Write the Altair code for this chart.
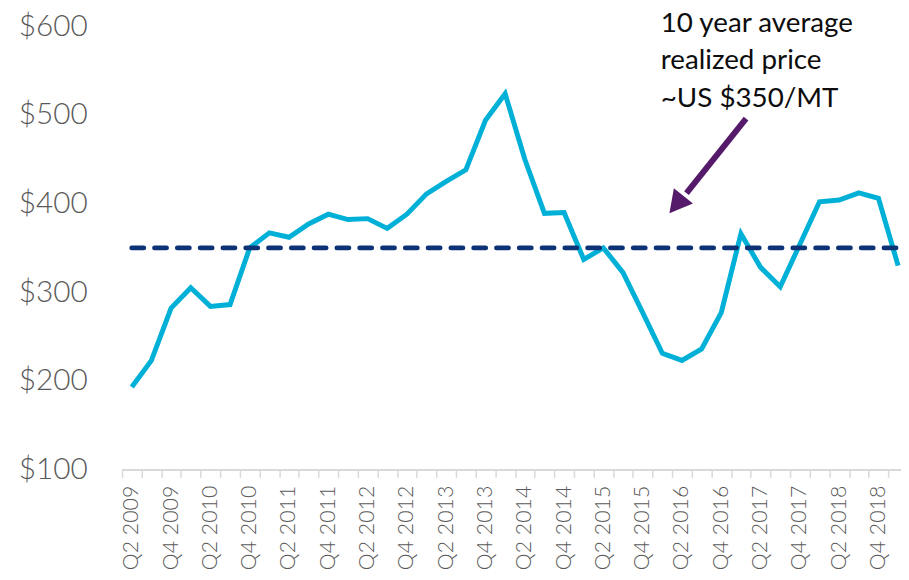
import altair as alt
import pandas as pd

quarters = [
    "Q2 2009", "Q3 2009", "Q4 2009", "Q1 2010", "Q2 2010", "Q3 2010", "Q4 2010",
    "Q1 2011", "Q2 2011", "Q3 2011", "Q4 2011", "Q1 2012", "Q2 2012", "Q3 2012",
    "Q4 2012", "Q1 2013", "Q2 2013", "Q3 2013", "Q4 2013", "Q1 2014", "Q2 2014",
    "Q3 2014", "Q4 2014", "Q1 2015", "Q2 2015", "Q3 2015", "Q4 2015", "Q1 2016",
    "Q2 2016", "Q3 2016", "Q4 2016", "Q1 2017", "Q2 2017", "Q3 2017", "Q4 2017",
    "Q1 2018", "Q2 2018", "Q3 2018", "Q4 2018", "Q1 2019",
]
prices = [
    193, 223, 282, 305, 284, 286, 350,
    367, 362, 377, 388, 382, 383, 372,
    388, 411, 425, 438, 494, 524, 450,
    389, 390, 337, 350, 322, 277, 231,
    223, 236, 277, 366, 328, 306, 354,
    402, 404, 412, 406, 330,
]
avg_price = 350
y_ticks = [100, 200, 300, 400, 500, 600]

note_lines = ["10 year average", "realized price", "~US $350/MT"]
note_pos = [27.42, 593.3]
arrow_tail = [31.76, 495.9]
arrow_base = [28.73, 411.9]
arrow_tip = [27.86, 389.1]

df = pd.DataFrame({"quarter": quarters, "price": prices, "avg": [avg_price] * len(quarters)})
note_df = pd.DataFrame({"ax": [note_pos[0]], "ay": [note_pos[1]], "txt": [note_lines]})
shaft_df = pd.DataFrame({"ax": [arrow_tail[0]], "ax2": [arrow_base[0]],
                         "ay": [arrow_tail[1]], "ay2": [arrow_base[1]]})
head_df = pd.DataFrame({"ax": [arrow_tip[0]], "ay": [arrow_tip[1]]})

ydom = alt.Scale(domain=[100, 600], nice=False, zero=False)
y_axis = alt.Axis(
    title=None, values=y_ticks, format="$.0f", labelFontSize=30,
    labelColor="#595959", labelPadding=35, ticks=False, domain=False,
    grid=False, labelFont="Lato", labelFontWeight=300,
)

x_band = alt.X(
    "quarter:N", sort=quarters, bandPosition=0.5,
    scale=alt.Scale(type="band", paddingInner=0, paddingOuter=0),
    axis=alt.Axis(
        title=None, labelAngle=-90, labelFontSize=21.5, labelColor="#595959",
        labelPadding=8, tickSize=8, tickColor="#D9D9D9", tickWidth=1.5,
        domain=True, domainColor="#D9D9D9", domainWidth=2, tickBand="extent",
        labelExpr="(indexof(datum.label, 'Q2') == 0 || indexof(datum.label, 'Q4') == 0) ? datum.label : ''",
        labelOverlap=False, labelBound=False, grid=False, labelFont="Lato",
        labelFontWeight=300,
    ),
)

line = alt.Chart(df).mark_line(color="#00B0D6", strokeWidth=5, strokeJoin="miter").encode(
    x=x_band,
    y=alt.Y("price:Q", scale=ydom, axis=y_axis),
)

avg_line = alt.Chart(df).mark_line(color="#0D3275", strokeWidth=5, strokeDash=[12, 11],
                                   strokeCap="round").encode(
    x=x_band,
    y=alt.Y("avg:Q", scale=ydom, axis=y_axis),
)

xq = alt.Scale(domain=[0, 40], nice=False, zero=False)

note = alt.Chart(note_df).mark_text(
    align="left", baseline="alphabetic", fontSize=28, lineHeight=37.5,
    font="Lato", color="#0D0D0D"
).encode(
    x=alt.X("ax:Q", scale=xq, axis=None),
    y=alt.Y("ay:Q", scale=ydom, axis=y_axis),
    text="txt",
)

shaft = alt.Chart(shaft_df).mark_rule(color="#561A6A", strokeWidth=6).encode(
    x=alt.X("ax:Q", scale=xq, axis=None),
    x2="ax2:Q",
    y=alt.Y("ay:Q", scale=ydom, axis=y_axis),
    y2="ay2:Q",
)

head = alt.Chart(head_df).mark_point(
    shape="M0,0L0.55,1L-0.55,1Z", filled=True, opacity=1, color="#561A6A",
    size=2025, angle=219, strokeWidth=0
).encode(
    x=alt.X("ax:Q", scale=xq, axis=None),
    y=alt.Y("ay:Q", scale=ydom, axis=y_axis),
)

base = alt.layer(line, avg_line)
annot = alt.layer(shaft, head, note)

chart = alt.layer(base, annot).resolve_scale(
    x="independent"
).properties(
    width=793, height=447,
    autosize=alt.AutoSizeParams(type="none"),
    padding={"left": 115, "top": 16, "right": -7, "bottom": 101},
).configure(font="Lato").configure_view(stroke=None, strokeWidth=0).configure_axisY(
    domain=False, grid=False, ticks=False
)

chart.save("out.html", embed_options={"renderer": "svg", "actions": False})
